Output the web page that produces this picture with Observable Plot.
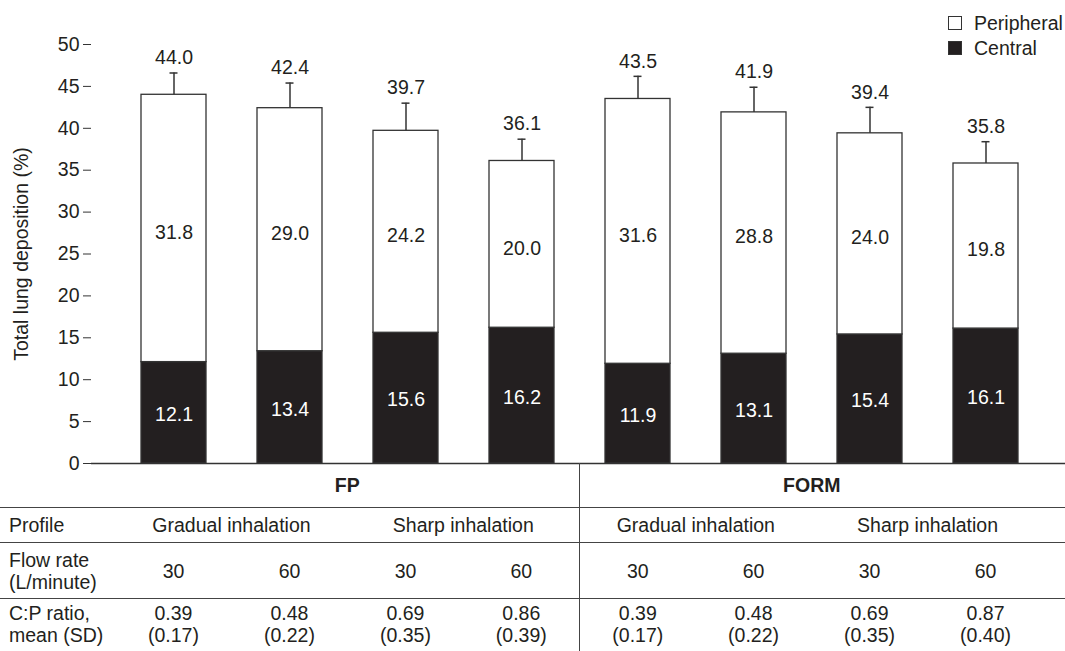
<!DOCTYPE html>
<html>
<head>
<meta charset="utf-8">
<script src="https://cdn.jsdelivr.net/npm/d3@7"></script>
<script src="https://cdn.jsdelivr.net/npm/@observablehq/plot@0.6"></script>
<style>
  html, body { margin: 0; padding: 0; background: #fff; }
  body { font-family: "Liberation Sans", Arial, sans-serif; color: #231f20; }
  #wrap { position: relative; width: 1065px; height: 651px; overflow: hidden; }
  .legend { position: absolute; left: 948px; font-size: 19.5px; display: flex; align-items: center; height: 20px; }
  .legend .sw { width: 12px; height: 12px; border: 1.5px solid #333; margin-right: 12px; box-sizing: content-box; }
  table { position: absolute; left: 0; top: 463px; width: 1065px; border-collapse: collapse; table-layout: fixed; font-size: 19.5px; }
  td { padding: 0; text-align: center; vertical-align: middle; line-height: 22px; white-space: nowrap; }
  td.lab { text-align: left; padding-left: 9px; }
  tr.r1 td { height: 44px; border-bottom: 1.5px solid #444; font-weight: bold; }
  tr.r2 td { height: 34px; border-bottom: 1.5px solid #444; }
  tr.r3 td { height: 55px; border-bottom: 1.5px solid #444; }
  tr.r4 td { height: 52px; padding-top: 3px; vertical-align: top; }
  tr.r4 td.lab { padding-top: 3px; }
  td.sep { border-right: 1.5px solid #444; }
</style>
</head>
<body>
<div id="wrap">
  <div id="chart"></div>
  <div class="legend" style="top:13px"><div class="sw" style="background:#fff"></div>Peripheral</div>
  <div class="legend" style="top:38px"><div class="sw" style="background:#231f20"></div>Central</div>
  <table id="tbl"></table>
</div>
<script>
// ---- data ----
const conditions = ["FP G30", "FP G60", "FP S30", "FP S60", "FORM G30", "FORM G60", "FORM S30", "FORM S60"];
const central    = [12.1, 13.4, 15.6, 16.2, 11.9, 13.1, 15.4, 16.1];
const peripheral = [31.8, 29.0, 24.2, 20.0, 31.6, 28.8, 24.0, 19.8];
const total      = [44.0, 42.4, 39.7, 36.1, 43.5, 41.9, 39.4, 35.8];
const sd         = [2.6, 3.0, 3.3, 2.6, 2.7, 3.0, 3.1, 2.6];
const yTicks     = [0, 5, 10, 15, 20, 25, 30, 35, 40, 45, 50];
const yLabel     = "Total lung deposition (%)";

const groups     = ["FP", "FORM"];
const profiles   = ["Gradual inhalation", "Sharp inhalation"];
const flowRates  = ["30", "60", "30", "60", "30", "60", "30", "60"];
const cpRatio    = ["0.39", "0.48", "0.69", "0.86", "0.39", "0.48", "0.69", "0.87"];
const cpSD       = ["(0.17)", "(0.22)", "(0.35)", "(0.39)", "(0.17)", "(0.22)", "(0.35)", "(0.40)"];
const rowLabels  = ["Profile", "Flow rate<br>(L/minute)", "C:P ratio,<br>mean (SD)"];

const rows = conditions.map((c, i) => ({cond: c, central: central[i], peripheral: peripheral[i], total: total[i], sd: sd[i]}));

const ink = "#231f20";
const fs = 19.5;
const chart = Plot.plot({
  width: 1065,
  height: 465,
  marginTop: 44,
  marginBottom: 2,
  marginLeft: 91,
  marginRight: 0,
  style: {fontFamily: "Liberation Sans, Arial, sans-serif", fontSize: fs + "px", color: ink, background: "#fff", overflow: "visible"},
  x: {domain: conditions, axis: null, paddingInner: 0.44, paddingOuter: 0.418, align: 0.52},
  y: {domain: [0, 50]},
  marks: [
    Plot.barY(rows, {x: "cond", y1: 0, y2: "central", fill: ink, stroke: "#333", strokeWidth: 1.3}),
    Plot.barY(rows, {x: "cond", y1: "central", y2: "total", fill: "#fff", stroke: "#333", strokeWidth: 1.3}),
    Plot.ruleX(rows, {x: "cond", y1: "total", y2: d => d.total + d.sd, stroke: "#333", strokeWidth: 1.5}),
    Plot.tickY(rows, {x: "cond", y: d => d.total + d.sd, stroke: "#333", strokeWidth: 1.5, insetLeft: 28.5, insetRight: 28.5}),
    Plot.text(rows, {x: "cond", y: d => d.total + d.sd, text: d => d.total.toFixed(1), dy: -15, fill: ink, fontSize: fs}),
    Plot.text(rows, {x: "cond", y: d => (d.central + d.total) / 2, text: d => d.peripheral.toFixed(1), dy: 4, fill: ink, fontSize: fs}),
    Plot.text(rows, {x: "cond", y: d => d.central / 2, text: d => d.central.toFixed(1), dy: 2, fill: "#fff", fontSize: fs}),
    Plot.ruleY([0], {stroke: "#333", strokeWidth: 1.5}),
    Plot.axisY({ticks: yTicks, tickSize: 8, tickPadding: 4, line: true, stroke: "#333", fill: ink, fontSize: fs,
                label: yLabel, labelAnchor: "center", labelOffset: 77, labelArrow: "none"})
  ]
});
document.getElementById("chart").appendChild(chart);

// ---- table below the chart ----
const tbl = document.getElementById("tbl");
let html = '<colgroup><col style="width:115.5px">';
for (let i = 0; i < 8; i++) html += '<col style="width:116px">';
html += '<col></colgroup>';
// row 1: groups
html += '<tr class="r1"><td></td>';
groups.forEach((g, gi) => { html += `<td colspan="4"${gi === 0 ? ' class="sep"' : ''}>${g}</td>`; });
html += '<td></td></tr>';
// row 2: profiles
html += `<tr class="r2"><td class="lab">${rowLabels[0]}</td>`;
groups.forEach((g, gi) => profiles.forEach((p, pi) => {
  html += `<td colspan="2"${gi === 0 && pi === 1 ? ' class="sep"' : ''}>${p}</td>`;
}));
html += '<td></td></tr>';
// row 3: flow rates
html += `<tr class="r3"><td class="lab">${rowLabels[1]}</td>`;
flowRates.forEach((f, i) => { html += `<td${i === 3 ? ' class="sep"' : ''}>${f}</td>`; });
html += '<td></td></tr>';
// row 4: C:P ratios
html += `<tr class="r4"><td class="lab">${rowLabels[2]}</td>`;
cpRatio.forEach((r, i) => { html += `<td${i === 3 ? ' class="sep"' : ''}>${r}<br>${cpSD[i]}</td>`; });
html += '<td></td></tr>';
tbl.innerHTML = html;
</script>
</body>
</html>
